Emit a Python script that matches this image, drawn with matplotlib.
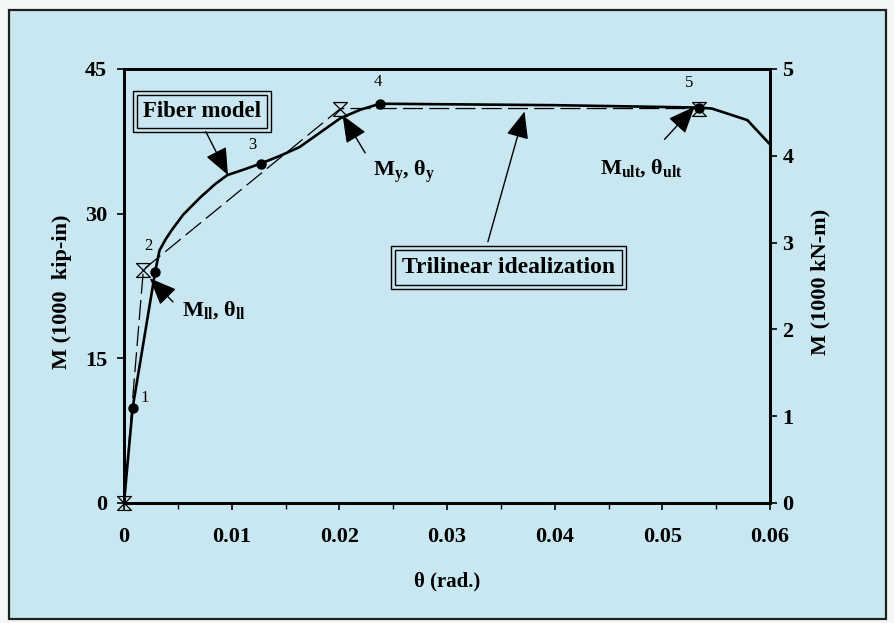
import matplotlib
matplotlib.use('Agg')
import matplotlib.pyplot as plt
from matplotlib.path import Path
from matplotlib.patches import Rectangle

plt.rcParams['font.family'] = ['Liberation Serif', 'DejaVu Serif']
plt.rcParams['font.weight'] = 'bold'
plt.rcParams['mathtext.fontset'] = 'custom'
plt.rcParams['mathtext.rm'] = 'Liberation Serif:bold'
plt.rcParams['mathtext.it'] = 'Liberation Serif:bold'
plt.rcParams['mathtext.bf'] = 'Liberation Serif:bold'
plt.rcParams['mathtext.default'] = 'rm'

# ---- data ----
fiber_theta = [0.0, 0.0008, 0.0029, 0.0033, 0.0039, 0.0045, 0.0055, 0.0071, 0.0085,
               0.0096, 0.0112, 0.0127, 0.0145, 0.0163, 0.0182, 0.0201, 0.0220, 0.0238,
               0.0400, 0.0534, 0.0546, 0.0579, 0.0599]
fiber_M = [0.0, 9.85, 24.0, 26.2, 27.4, 28.4, 29.9, 31.7, 33.1,
           34.0, 34.6, 35.2, 36.0, 36.9, 38.4, 39.9, 40.8, 41.4,
           41.25, 41.0, 40.9, 39.7, 37.3]
key_theta = [0.0008, 0.0029, 0.0127, 0.0238, 0.0534]
key_M = [9.85, 24.0, 35.2, 41.4, 41.0]
key_labels = ['1', '2', '3', '4', '5']
tri_theta = [0.0, 0.0018, 0.0201, 0.0534]
tri_M = [0.0, 24.2, 40.9, 40.9]
xticks = [0, 0.01, 0.02, 0.03, 0.04, 0.05, 0.06]
xtick_labels = ['0', '0.01', '0.02', '0.03', '0.04', '0.05', '0.06']
yticks_left = [0, 15, 30, 45]
yticks_right = [0, 1, 2, 3, 4, 5]

BG = '#c9e7f1'
W, H = 894, 623
fig = plt.figure(figsize=(W / 100, H / 100), dpi=100)
fig.patch.set_facecolor('#f3f7f8')

# outer framed panel
fig.patches.append(Rectangle((9 / W, 1 - 619 / H), (886 - 9) / W, (619 - 10) / H,
                             transform=fig.transFigure, facecolor=BG,
                             edgecolor='#202020', linewidth=1.6, zorder=-10))

ax = fig.add_axes([124 / W, 1 - 503 / H, (770 - 124) / W, (503 - 69) / H])
ax.set_facecolor(BG)
ax.set_xlim(0, 0.06)
ax.set_ylim(0, 45)
for s in ax.spines.values():
    s.set_linewidth(2.0)
ax.set_xticks(xticks)
ax.set_xticklabels(xtick_labels)
ax.set_xticks([0.005, 0.015, 0.025, 0.035, 0.045, 0.055], minor=True)
ax.set_yticks(yticks_left)
ax.tick_params(axis='both', which='major', direction='out', length=5, width=1.2,
               labelsize=16, pad=7)
ax.tick_params(axis='x', which='major', pad=12)
ax.tick_params(axis='x', which='minor', direction='out', length=4, width=1.0)
for lab in ax.get_xticklabels() + ax.get_yticklabels():
    lab.set_fontweight('bold')

ax2 = ax.twinx()
ax2.set_ylim(0, 5)
ax2.set_yticks(yticks_right)
ax2.tick_params(axis='y', direction='out', length=5, width=1.2, labelsize=16, pad=4)
for lab in ax2.get_yticklabels():
    lab.set_fontweight('bold')
for s in ax2.spines.values():
    s.set_linewidth(2.0)

ax.set_xlabel('θ (rad.)', fontsize=15, fontweight='bold', labelpad=18)
fig.text(62 / W, 1 - 292 / H, 'M (1000  kip-in)', rotation=90, fontsize=16,
         fontweight='bold', ha='center', va='center')
fig.text(820 / W, 1 - 282 / H, 'M (1000 kN-m)', rotation=90, fontsize=16,
         fontweight='bold', ha='center', va='center')

# curves
ax.plot(fiber_theta, fiber_M, color='black', lw=1.9, zorder=5, clip_on=False)
ax.plot(tri_theta, tri_M, color='black', lw=0.9, dashes=(16, 5), zorder=4)
ax.plot(key_theta, key_M, 'o', color='black', ms=6.5, zorder=6)
hourglass = Path([(-1, 1), (1, 1), (-1, -1), (1, -1), (-1, 1)],
                 [Path.MOVETO, Path.LINETO, Path.LINETO, Path.LINETO, Path.CLOSEPOLY])
ax.plot(tri_theta, tri_M, linestyle='none', marker=hourglass, ms=10,
        mfc='none', mec='black', mew=0.9, zorder=7, clip_on=False)

# point numbers
lab_pos = [(0.00195, 10.9), (0.0023, 26.6), (0.0119, 37.1), (0.0236, 43.7), (0.0525, 43.5)]
for t, (lx, ly) in zip(key_labels, lab_pos):
    ax.text(lx, ly, t, fontsize=12, fontweight='normal', ha='center', va='center')

arrow = dict(arrowstyle='-|>,head_length=0.6,head_width=0.25', mutation_scale=28,
             color='black', lw=1.0, shrinkA=0, shrinkB=0)

# annotations
ax.annotate('', xy=(0.00966, 34.0), xytext=(0.0076, 38.5), arrowprops=arrow, zorder=8)
ax.annotate('', xy=(0.0024, 23.3), xytext=(0.00455, 20.85), arrowprops=arrow, zorder=8)
ax.annotate('', xy=(0.0203, 40.2), xytext=(0.0224, 36.3), arrowprops=arrow, zorder=8)
ax.annotate('', xy=(0.0372, 40.6), xytext=(0.0338, 27.1), arrowprops=arrow, zorder=8)
ax.annotate('', xy=(0.0530, 41.1), xytext=(0.0502, 37.7), arrowprops=arrow, zorder=8)

ax.text(0.0054, 20.0, r'M$_{ll}$, θ$_{ll}$', fontsize=16, va='center', ha='left')
ax.text(0.0231, 34.3, r'M$_{y}$, θ$_{y}$', fontsize=16, va='center', ha='left')
ax.text(0.0442, 34.75, r'M$_{ult}$, θ$_{ult}$', fontsize=16, va='center', ha='left')

t1 = ax.text(0.00724, 40.6, 'Fiber model', fontsize=16.5, ha='center', va='center',
             zorder=9, bbox=dict(boxstyle='square,pad=0.25', fc=BG, ec='black', lw=1.0))
t2 = ax.text(0.0357, 24.4, 'Trilinear idealization', fontsize=17, ha='center',
             va='center', zorder=9,
             bbox=dict(boxstyle='square,pad=0.3', fc=BG, ec='black', lw=1.0))

fig.canvas.draw()
for t in (t1, t2):
    bb = t.get_bbox_patch().get_window_extent()
    g = 4
    fig.patches.append(Rectangle(((bb.x0 - g) / W, (bb.y0 - g) / H),
                                 (bb.width + 2 * g) / W, (bb.height + 2 * g) / H,
                                 transform=fig.transFigure, fill=False,
                                 edgecolor='black', linewidth=1.0, zorder=20))

fig.savefig('out.png', dpi=100, facecolor=fig.get_facecolor())
